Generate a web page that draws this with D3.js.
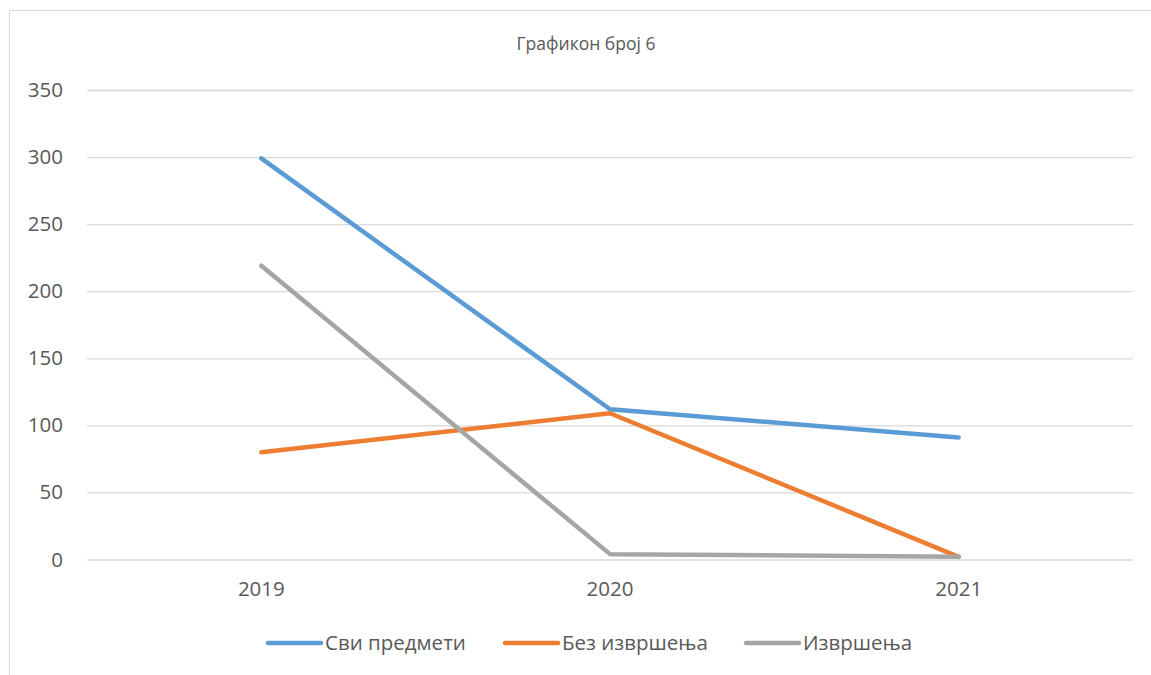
<!DOCTYPE html>
<html><head><meta charset="utf-8">
<script src="https://cdn.jsdelivr.net/npm/d3@7"></script>
<style>body{margin:0;background:#fff}svg{display:block}text{font-family:"Open Sans","Noto Sans",sans-serif;fill:#595959}</style>
</head><body><svg id="c" width="1151" height="675"></svg>
<script>
const categories = ["2019","2020","2021"];
const seriesNames = ["Сви предмети","Без извршења","Извршења"];
const sviPredmeti = [299,112,91];
const bezIzvrsenja = [80,109,2];
const izvrsenja = [219,4,2];
const yTicks = [0,50,100,150,200,250,300,350];
const colors = ["#5B9BD5","#ED7D31","#A5A5A5"];
const title = "Графикон број 6";

const svg = d3.select("#c");
// chart border
svg.append("path").attr("d","M9.5,675 L9.5,10.5 L1151,10.5").attr("fill","none").attr("stroke","#D9D9D9").attr("stroke-width",1);

const x = d3.scaleBand().domain(categories).range([87,1133]);
const y = d3.scaleLinear().domain([0,350]).range([559.5,90]);

svg.append("text").attr("x",586).attr("y",50).attr("text-anchor","middle").style("font-size","17.5px").text(title);

const yAxis = svg.append("g").attr("transform","translate(87,0)")
  .call(d3.axisLeft(y).tickValues(yTicks).tickSize(-1046).tickPadding(24));
yAxis.select(".domain").remove();
yAxis.selectAll(".tick line").attr("stroke","#D9D9D9").attr("stroke-width",1.3);
yAxis.selectAll(".tick text").style("font-size","20.5px").attr("fill","#595959");

const xAxis = svg.append("g").attr("transform","translate(0,559.5)")
  .call(d3.axisBottom(x).tickSize(0).tickPadding(22));
xAxis.select(".domain").remove();
xAxis.selectAll(".tick text").style("font-size","20.5px").attr("fill","#595959");

const data = [sviPredmeti,bezIzvrsenja,izvrsenja];
const line = d3.line().x((d,i)=>x(categories[i])+x.bandwidth()/2).y(d=>y(d));
data.forEach((s,k)=>{
  svg.append("path").datum(s).attr("d",line).attr("fill","none")
    .attr("stroke",colors[k]).attr("stroke-width",4.5)
    .attr("stroke-linecap","round").attr("stroke-linejoin","round");
});

const legendX = [268,505,746];
const lg = svg.append("g");
seriesNames.forEach((n,k)=>{
  lg.append("line").attr("x1",legendX[k]).attr("x2",legendX[k]+53).attr("y1",643).attr("y2",643)
    .attr("stroke",colors[k]).attr("stroke-width",4.5).attr("stroke-linecap","round");
  lg.append("text").attr("x",legendX[k]+57).attr("y",650).style("font-size","20.5px").text(n);
});
</script></body></html>
